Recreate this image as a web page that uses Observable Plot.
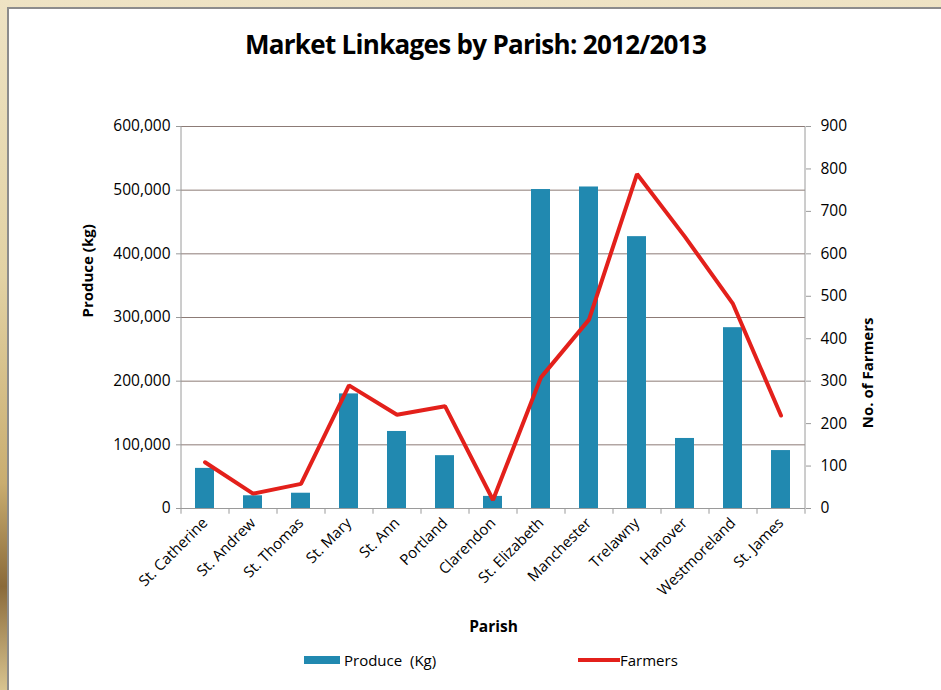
<!DOCTYPE html>
<html>
<head>
<meta charset="utf-8">
<script src="https://cdn.jsdelivr.net/npm/d3@7"></script>
<script src="https://cdn.jsdelivr.net/npm/@observablehq/plot@0.6"></script>
<style>
  html, body { margin: 0; padding: 0; }
  body {
    width: 941px; height: 690px; overflow: hidden; position: relative;
    background: linear-gradient(180deg, #eee3c4 0%, #e2d2a4 40%, #c9ad70 70%, #8a6a3a 85%, #d8c490 100%);
    font-family: "Open Sans", "Noto Sans", sans-serif;
  }
  #card {
    position: absolute; left: 7px; top: 7px; width: 940px; height: 690px;
    background: #ffffff; border: 2px solid #8c8c8c; box-sizing: border-box;
  }
  #title {
    position: absolute; left: 0; top: 26px; width: 951px; text-align: center;
    font-size: 26px; font-weight: 700; color: #000; letter-spacing: -0.7px;
  }
  #chart { position: absolute; left: 0; top: 80px; }
  #legend { position: absolute; top: 650px; left: 0; width: 941px; height: 22px; font-size: 15px; color: #000; }
  .lg { position: absolute; display: flex; align-items: center; }
  .sw-bar { width: 36px; height: 8px; background: #2189b0; }
  .sw-line { width: 42px; height: 4px; background: #e3201b; }
</style>
</head>
<body>
<div id="card"></div>
<div id="title">Market Linkages by Parish: 2012/2013</div>
<div id="chart"></div>
<div id="legend">
  <div class="lg" style="left:304px;"><div class="sw-bar"></div><span style="margin-left:4px;">Produce&nbsp;&nbsp;(Kg)</span></div>
  <div class="lg" style="left:578px;"><div class="sw-line"></div><span>Farmers</span></div>
</div>
<script>
const parishes = ["St. Catherine", "St. Andrew", "St. Thomas", "St. Mary", "St. Ann", "Portland",
  "Clarendon", "St. Elizabeth", "Manchester", "Trelawny", "Hanover", "Westmoreland", "St. James"];
const produceKg = [63000, 20000, 24000, 180000, 121000, 83000, 19000, 501000, 505000, 427000, 110000, 284000, 91000];
const farmers = [109, 35, 58, 290, 221, 241, 20, 309, 445, 788, 640, 482, 219];
const produceTicks = [0, 100000, 200000, 300000, 400000, 500000, 600000];
const farmerTicks = [0, 100, 200, 300, 400, 500, 600, 700, 800, 900];

const produceMax = 600000, farmerMax = 900;
const k = produceMax / farmerMax;

const data = parishes.map((p, i) => ({parish: p, produce: produceKg[i], farmers: farmers[i]}));

const gridColor = "#8c7b76";
const axisColor = "#9a9a9a";

const chart = Plot.plot({
  width: 941,
  height: 570,
  marginTop: 46,
  marginBottom: 142,
  marginLeft: 181,
  marginRight: 136,
  style: {fontFamily: "'Open Sans', 'Noto Sans', sans-serif", fontSize: "15px", color: "#000", background: "transparent"},
  x: {domain: parishes, paddingInner: 0.6, paddingOuter: 0.3, label: null},
  y: {domain: [0, produceMax], label: null},
  marks: [
    Plot.ruleY(produceTicks.slice(1), {stroke: gridColor, strokeWidth: 1}),
    Plot.barY(data, {x: "parish", y: "produce", fill: "#2189b0"}),
    Plot.ruleX(parishes, {x: d => d, dx: -24, y1: 0, y2: -9000, stroke: axisColor}),
    Plot.ruleX([parishes[parishes.length - 1]], {x: d => d, dx: 24, y1: 0, y2: -9000, stroke: axisColor}),
    Plot.ruleY([0], {stroke: axisColor, strokeWidth: 1}),
    Plot.axisY({
      anchor: "left", ticks: produceTicks, tickSize: 5, tickPadding: 6,
      tickFormat: d3.format(","), fontSize: 15.5, stroke: axisColor,
      label: null
    }),
    Plot.ruleX([parishes[0]], {x: d => d, dx: -24, y1: 0, y2: produceMax, stroke: axisColor}),
    Plot.axisY({
      anchor: "right", ticks: farmerTicks.map(v => v * k), tickSize: 5, tickPadding: 10,
      tickFormat: v => String(Math.round(v / k)), fontSize: 15.5, stroke: axisColor,
      label: null
    }),
    Plot.ruleX([parishes[parishes.length - 1]], {x: d => d, dx: 24, y1: 0, y2: produceMax, stroke: axisColor}),
    Plot.axisX({
      tickSize: 0, tickRotate: -45, tickPadding: 12, fontSize: 15, label: null
    }),
    Plot.line(data, {x: "parish", y: d => d.farmers * k, stroke: "#e3201b", strokeWidth: 4, strokeLinejoin: "miter"}),
    Plot.text(["Produce (kg)"], {frameAnchor: "left", dx: -93, rotate: -90, fontWeight: "bold", fontSize: 15}),
    Plot.text(["No. of Farmers"], {frameAnchor: "right", dx: 63, rotate: -90, fontWeight: "bold", fontSize: 15}),
    Plot.text(["Parish"], {frameAnchor: "bottom", dy: 123, fontWeight: "bold", fontSize: 15.5})
  ]
});
document.getElementById("chart").appendChild(chart);
</script>
</body>
</html>
